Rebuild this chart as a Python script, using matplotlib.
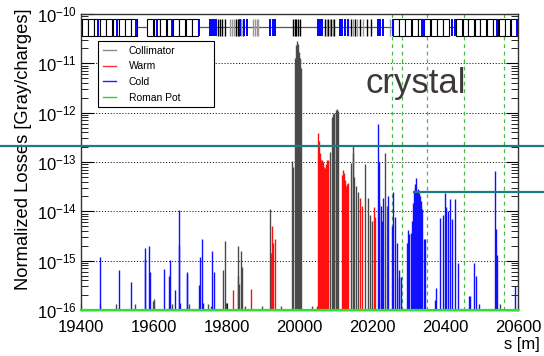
import matplotlib
matplotlib.use("Agg")
import matplotlib.pyplot as plt
from matplotlib.lines import Line2D
from matplotlib.ticker import LogLocator, FixedLocator

plt.rcParams['font.family'] = ['Liberation Sans', 'DejaVu Sans']
plt.rcParams['mathtext.default'] = 'regular'

# loss spikes: position s [m] and normalized loss [Gray/charges]
coll_s = [19451, 19497, 19548, 19598, 19601, 19650, 19697, 19749, 19757,
          19790, 19796, 19799, 19830, 19832, 19834, 19839, 19842, 19849,
          19898, 19920, 19949, 19980, 19983,
          19988, 19991, 19994, 19996, 19999, 20002, 20005,
          20034, 20049, 20084, 20089, 20092, 20096, 20099, 20101, 20104, 20107,
          20141, 20147, 20148, 20151, 20156, 20160, 20180, 20189, 20194, 20198,
          20234, 20241, 20551]
coll_v = [1.3e-16, 1.3e-16, 1.3e-16, 1.5e-16, 1.7e-16, 1.3e-16, 1.3e-16, 1.3e-16, 1.2e-16,
          6.5e-16, 2.5e-15, 1.4e-16, 2.0e-15, 5e-16, 3.4e-16, 1.6e-15, 7.3e-16, 1.2e-16,
          1.2e-16, 1.1e-14, 1.2e-16, 1.05e-13, 8e-14,
          1.3e-11, 2.35e-11, 2.9e-11, 2.5e-11, 1.7e-11, 1.3e-11, 8e-12,
          1.2e-16, 1.2e-16, 1.6e-13, 8.3e-13, 9.5e-13, 1.0e-12, 1.0e-12, 1.15e-12, 1.2e-12, 1.1e-12,
          9.5e-14, 1.5e-13, 2.2e-13, 5e-14, 3.2e-14, 2.5e-14, 9e-14, 1.9e-14, 8.5e-15, 6.3e-15,
          1.55e-13, 1.3e-14, 1.3e-16]

warm_s = [19818, 19867, 19922, 19925, 19928, 19933,
          20051, 20053, 20055, 20057, 20059, 20061, 20063, 20065, 20067, 20070, 20073, 20075, 20077,
          20117, 20120, 20122, 20125, 20129, 20131, 20134,
          20167, 20171, 20205, 20208]
warm_v = [2.5e-16, 2.7e-16, 1.45e-15, 5.1e-15, 2.3e-15, 2.8e-15,
          3.8e-13, 2.7e-13, 1.2e-13, 1.5e-13, 1.1e-13, 1.1e-13, 9e-14, 1.0e-13, 8e-14, 7.5e-14, 9e-14, 1.1e-13, 1.1e-13,
          5.5e-14, 7e-14, 6e-14, 4.4e-14, 3.2e-14, 3.5e-14, 3.7e-14,
          1.9e-14, 1.26e-14, 1.2e-14, 7.7e-15]

cold_s = [19451, 19504, 19537, 19576, 19577, 19587, 19589, 19628, 19642, 19645,
          19659, 19668, 19670, 19672, 19691, 19692, 19723, 19728, 19731, 19735,
          19760, 19764,
          20215, 20217, 20219, 20223, 20226, 20230, 20244, 20254, 20258, 20263, 20267,
          20272, 20273, 20280, 20295, 20297, 20300, 20307, 20309, 20312, 20314, 20316,
          20318, 20320, 20323, 20325, 20327, 20329, 20332, 20334, 20336, 20341, 20345,
          20373, 20376, 20387, 20393, 20399, 20402, 20408, 20412, 20419, 20426, 20434,
          20465, 20469, 20480, 20485, 20492, 20537, 20540, 20543, 20593]
cold_v = [1.2e-15, 6.6e-16, 3.7e-16, 1.8e-15, 1.1e-15, 2.0e-15, 5.8e-16, 6.8e-16, 4.8e-16, 1.05e-15,
          2.5e-16, 1.07e-14, 2.1e-15, 1.4e-16, 5.8e-16, 5.3e-16, 3.2e-16, 1.2e-15, 2.8e-15, 1.4e-16,
          1.6e-15, 6e-16,
          5.9e-13, 1.5e-14, 1.0e-13, 1.3e-14, 6.3e-15, 1.9e-14, 2e-14, 5.1e-15, 2.5e-14, 7.5e-15, 2.3e-15,
          6.5e-16, 4.6e-16, 4.6e-16, 2.3e-15, 4.1e-15, 3.5e-15, 3.7e-15, 6.3e-15, 1.5e-14, 2.6e-14, 3e-14,
          3.5e-14, 4.8e-14, 2.5e-14, 2.8e-14, 2.4e-14, 2.2e-14, 2.0e-14, 1.6e-14, 1.1e-14, 2.7e-15, 2.8e-15,
          1.6e-16, 2.8e-16, 7.4e-15, 8.5e-15, 2.4e-14, 1.2e-14, 1.0e-14, 1.75e-14, 7e-15, 1.75e-14, 9e-16,
          1.9e-16, 1.9e-16, 9e-16, 5e-16, 1.3e-16, 6.5e-14, 4.3e-15, 1.3e-15, 3e-16]

# machine layout strip at the top
box_s = [19402, 19419, 19436, 19453, 19470, 19487, 19504, 19521, 19538,
         19582, 19600, 19617, 19635, 19652, 19670, 19688, 19705,
         20257, 20274, 20291, 20309, 20326, 20343, 20361, 20378, 20395,
         20431, 20448, 20464, 20481, 20497, 20514, 20530, 20547, 20563, 20580]
mag_black_s = [19777, 19782, 19787, 19796, 19826, 19830, 19834, 19844, 19983, 19987, 19991,
               19997, 20002, 20071, 20079, 20087, 20095, 20141, 20152, 20166, 20186, 20196]
mag_gray_s = [19810, 19815, 19820, 19840, 19872, 19877, 19882, 19887, 20075, 20083, 20091,
              20134, 20146, 20158, 20174, 20248]
mag_blue_s = [19446, 19498, 19552, 19609, 19650, 19723, 19755, 19760, 19765, 19770,
              19837, 19848, 19856, 19920, 19926, 19934, 20052, 20057, 20063, 20111, 20117,
              20125, 20133, 20216, 20222, 20229, 20257, 20336, 20342, 20419, 20426, 20543, 20597]

crystal_s = [20255, 20282, 20350, 20451, 20562]

x_ticks = [19400, 19600, 19800, 20000, 20200, 20400, 20600]
y_ticks = [1e-16, 1e-15, 1e-14, 1e-13, 1e-12, 1e-11, 1e-10]
legend_labels = ['Collimator', 'Warm', 'Cold', 'Roman Pot']

fig = plt.figure(figsize=(5.44, 3.56), dpi=100)
ax = fig.add_axes([81 / 544, 1 - 310 / 356, 437 / 544, 296 / 356])
ax.set_yscale('log')
ax.set_xlim(19400, 20600)
ax.set_ylim(1e-16, 1e-10)

ax.yaxis.grid(True, which='major', ls=(0, (1.2, 1.8)), color='#222222', lw=0.7)
ax.set_axisbelow(True)

ax.vlines(coll_s, 1e-16, coll_v, colors='#4a4a4a', lw=1.0, zorder=3)
ax.vlines(warm_s, 1e-16, warm_v, colors='#ff1010', lw=1.0, zorder=3)
ax.vlines(cold_s, 1e-16, cold_v, colors='#1010ff', lw=1.0, zorder=3)

for s in crystal_s:
    ax.axvline(s, color='#44bb44', ls=(0, (3, 3)), lw=0.9, zorder=2)

# layout
ax.axhline(5.4e-11, color='#555555', lw=0.9, zorder=4)
ax.bar(box_s, 4.3e-11, bottom=3.6e-11, width=16, align='edge',
       facecolor='white', edgecolor='black', lw=0.8, zorder=5)
ax.vlines(mag_gray_s, 3.6e-11, 7.9e-11, colors='#999999', lw=1.0, zorder=6)
ax.vlines(mag_black_s, 3.6e-11, 7.9e-11, colors='black', lw=1.0, zorder=6)
ax.vlines(mag_blue_s, 3.6e-11, 7.9e-11, colors='#0000ff', lw=1.4, zorder=6)

ax.axhline(1e-16, color='#33dd33', lw=1.6, zorder=7, clip_on=False)

ax.text(0.652, 0.733, 'crystal', transform=ax.transAxes, fontsize=25,
        color='#3d3939', va='baseline', ha='left')

handles = [Line2D([], [], color='#888888', lw=1.0),
           Line2D([], [], color='#ff3333', lw=1.0),
           Line2D([], [], color='#2020ff', lw=1.0),
           Line2D([], [], color='#33cc33', lw=1.0)]
leg = ax.legend(handles, legend_labels, loc='upper left',
                bbox_to_anchor=(0.039, 0.682, 0.265, 0.227), mode='expand',
                borderaxespad=0, fontsize=7.5, handlelength=1.3, handletextpad=1.2,
                labelspacing=0.55, borderpad=0.45, fancybox=False, framealpha=1)
leg.get_frame().set_edgecolor('black')
leg.get_frame().set_linewidth(0.8)
leg.set_zorder(8)

ax.xaxis.set_major_locator(FixedLocator(x_ticks))
ax.yaxis.set_major_locator(FixedLocator(y_ticks))
ax.yaxis.set_minor_locator(LogLocator(base=10, subs=range(2, 10), numticks=20))
ax.yaxis.set_minor_formatter(plt.NullFormatter())
ax.tick_params(axis='y', which='major', direction='in', length=9, right=True, labelsize=12, pad=3)
ax.tick_params(axis='y', which='minor', direction='in', length=5, right=True)
ax.tick_params(axis='x', which='major', direction='in', length=5, labelsize=12, pad=7)
for sp in ax.spines.values():
    sp.set_linewidth(1.0)
    sp.set_color('#333333')

ax.set_ylabel('Normalized Losses [Gray/charges]', fontsize=13.2)
ax.yaxis.set_label_coords(-0.112, 1.02)
ax.yaxis.label.set_va('bottom')
ax.yaxis.label.set_ha('right')
ax.set_xlabel('s [m]', fontsize=12)
ax.xaxis.set_label_coords(1.05, -0.09)
ax.xaxis.label.set_ha('right')

# teal overlay lines
fig.add_artist(Line2D([0, 1], [1 - 146 / 356] * 2, transform=fig.transFigure,
                      color='#1e7b86', lw=1.6))
fig.add_artist(Line2D([413.7 / 544, 1], [1 - 192 / 356] * 2, transform=fig.transFigure,
                      color='#1e7b86', lw=1.6))

fig.savefig('out.png', dpi=100)
